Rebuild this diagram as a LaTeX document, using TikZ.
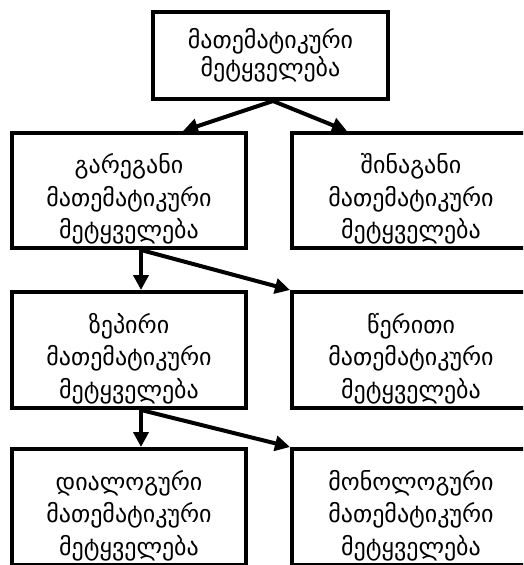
\documentclass[tikz,border=0pt]{standalone}
\usepackage{fontspec}
\setmainfont{DejaVu Sans}
\usetikzlibrary{arrows.meta,calc}
% extra room above the first line, so three-line texts sit a little low
\newcommand{\toppad}{\rule{0pt}{37pt}}
\begin{document}
\begin{tikzpicture}[x=1pt,y=-1pt,
  box/.style={draw=black, line width=4pt, fill=white, align=center,
    inner sep=0pt, font=\fontsize{24}{32.5}\selectfont},
  link/.style={line width=4pt, -{Triangle[length=15pt,width=15pt]}}]
  \useasboundingbox (0,0) rectangle (523,565);
  \begin{scope}
    \clip (0,0) rectangle (523,565);
    % top level
    \node[box, font=\fontsize{24}{28}\selectfont, minimum width=235pt,
      minimum height=87pt] (top) at (270.5,55.5)
      {მათემატიკური\\მეტყველება};
    % second level
    \node[box, minimum width=234pt, minimum height=115pt] (outer) at (129,190.5)
      {\toppad გარეგანი\\მათემატიკური\\მეტყველება};
    \node[box, minimum width=238pt, minimum height=115pt] (inner) at (411,190.5)
      {\toppad შინაგანი\\მათემატიკური\\მეტყველება};
    % third level
    \node[box, minimum width=234pt, minimum height=116pt] (oral) at (129,350)
      {\toppad ზეპირი\\მათემატიკური\\მეტყველება};
    \node[box, minimum width=238pt, minimum height=116pt] (written) at (411,350)
      {\toppad წერითი\\მათემატიკური\\მეტყველება};
    % fourth level
    \node[box, minimum width=234pt, minimum height=116pt] (dialog) at (129,507)
      {\toppad დიალოგური\\მათემატიკური\\მეტყველება};
    \node[box, minimum width=238pt, minimum height=116pt] (monolog) at (411,507)
      {\toppad მონოლოგური\\მათემატიკური\\მეტყველება};
    % connectors
    \coordinate (s0) at ($(top.south)+(2.5,0)$);
    \draw[link] (s0) -- ($(outer.north)+(54,0)$);
    \draw[link] (s0) -- ($(inner.north)+(-64,0)$);
    \coordinate (s1) at ($(outer.south)+(12,0)$);
    \draw[link] (s1) -- ($(oral.north)+(12,0)$);
    \draw[link] (s1) -- (written.north west);
    \coordinate (s2) at ($(oral.south)+(12,0)$);
    \draw[link] (s2) -- ($(dialog.north)+(12,0)$);
    \draw[link] (s2) -- (monolog.north west);
  \end{scope}
\end{tikzpicture}
\end{document}
